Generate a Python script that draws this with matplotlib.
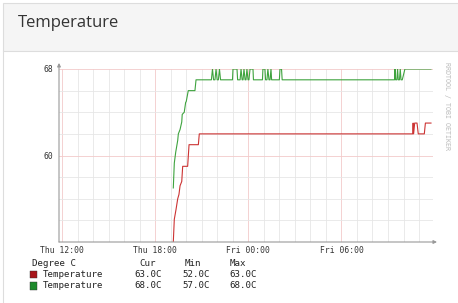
#!/usr/bin/env python3
"""Temperature panel: rrdtool-style 1-day graph of two temperature sensors."""
import matplotlib
matplotlib.use('Agg')
import matplotlib.pyplot as plt
from matplotlib.patches import Rectangle
from matplotlib.lines import Line2D

W, H = 458, 303

# hours since Thu 00:00
red_hours = [19.165, 19.23, 19.34, 19.45, 19.53, 19.60, 19.71, 19.77, 20.09, 20.18,
             20.78, 20.84, 34.59, 34.62, 34.65, 34.72, 34.87, 34.95, 35.34, 35.41, 35.77]
red_temp = [52.0, 54.1, 55.0, 56.0, 56.4, 57.2, 57.6, 59.0, 59.0, 61.0,
            61.0, 62.0, 62.0, 63.0, 62.0, 63.0, 63.0, 62.0, 62.0, 63.0, 63.0]

green_hours = [19.165, 19.23, 19.32, 19.45, 19.49, 19.60, 19.71, 19.74, 19.87, 19.96,
               20.00, 20.13, 20.56, 20.63,
               21.62, 21.69, 21.76, 21.85, 21.92, 21.99, 22.07, 22.14, 22.21,
               22.98, 23.01, 23.27, 23.31, 23.47, 23.53, 23.60, 23.66, 23.72, 23.79,
               23.85, 23.91, 23.98, 24.04, 24.11, 24.30, 24.33,
               24.91, 24.94, 25.07, 25.11, 25.20, 25.26, 25.33, 25.40, 25.46, 25.50,
               26.00, 26.04, 26.14, 26.18,
               33.42, 33.45, 33.49, 33.57, 33.62, 33.66, 33.74, 33.79, 33.84, 33.92,
               34.09, 35.77]
green_temp = [57.0, 59.3, 60.3, 61.4, 62.0, 62.4, 63.1, 63.8, 64.0, 64.9,
              65.0, 66.0, 66.0, 67.0,
              67, 68, 67, 67, 68, 67, 67, 68, 67,
              67, 68, 68, 67, 67, 68, 67, 67, 68, 67,
              67, 68, 67, 67, 68, 68, 67,
              67, 68, 68, 67, 67, 68, 67, 67, 68, 67,
              67, 68, 68, 67,
              67, 68, 67, 67, 68, 67, 67, 68, 67, 67,
              68, 68]

tick_hours = [12, 18, 24, 30]
tick_labels = ['Thu 12:00', 'Thu 18:00', 'Fri 00:00', 'Fri 06:00']
y_labels = [60, 68]

series_names = ['Temperature', 'Temperature']
cur_vals = ['63.0C', '68.0C']
min_vals = ['52.0C', '57.0C']
max_vals = ['63.0C', '68.0C']

LINE_COLORS = ['#cc3333', '#3ea33e']
SWATCH_COLORS = ['#a8161b', '#1e8a2c']
MONO = 'DejaVu Sans Mono'


def fx(x):
    return x / W


def fy(y):
    return 1 - y / H


fig = plt.figure(figsize=(W / 100, H / 100), dpi=100)
fig.patch.set_facecolor('white')

# panel header
fig.patches.append(Rectangle((fx(2.5), fy(50.5)), fx(W), fy(3) - fy(50.5),
                             transform=fig.transFigure, facecolor='#f5f5f5',
                             edgecolor='#dddddd', lw=0.8))
fig.lines.append(Line2D([fx(2.5), fx(2.5)], [0, fy(50.5)], transform=fig.transFigure,
                        color='#dddddd', lw=0.8))
fig.text(fx(18), fy(23), 'Temperature', family='Open Sans', fontsize=12,
         color='#333333', va='center', ha='left')

# graph area
ax = fig.add_axes([fx(59), fy(242), fx(433) - fx(59), fy(69) - fy(242)])
ax.set_xlim(11.8, 35.9)
ax.set_ylim(52, 68)
for s in ax.spines.values():
    s.set_visible(False)

ax.set_xticks(tick_hours)
ax.set_xticklabels(tick_labels, family=MONO, fontsize=5.8, color='#333333')
ax.set_xticks(range(12, 36), minor=True)
ax.set_yticks(y_labels)
ax.set_yticklabels([str(v) for v in y_labels], family=MONO, fontsize=5.8, color='#333333')
ax.set_yticks(range(52, 69, 2), minor=True)
ax.tick_params(which='both', length=0)
ax.tick_params(axis='x', pad=3)
ax.tick_params(axis='y', pad=4)
ax.grid(which='minor', color='#e6e6e6', lw=0.6)
ax.grid(which='major', color='#f3caca', lw=0.6)
ax.set_axisbelow(True)

ax.plot(red_hours, red_temp, color=LINE_COLORS[0], lw=0.8)
ax.plot(green_hours, green_temp, color=LINE_COLORS[1], lw=0.8)

arrow = dict(arrowstyle='-|>', color='#999999', lw=0.8, mutation_scale=5,
             shrinkA=0, shrinkB=0)
ax.annotate('', xy=(1.0107, 0), xytext=(0, 0), xycoords='axes fraction',
            arrowprops=arrow, annotation_clip=False)
ax.annotate('', xy=(0, 1.035), xytext=(0, 0), xycoords='axes fraction',
            arrowprops=arrow, annotation_clip=False)

fig.text(fx(447), fy(62), 'RRDTOOL / TOBI OETIKER', family=MONO, fontsize=4.8,
         color='#bbbbbb', rotation=270, ha='center', va='top')

# legend
lt = dict(family=MONO, fontsize=6.6, color='#222222', va='center', ha='left')
fig.text(fx(31.7), fy(263), 'Degree C', **lt)
fig.text(fx(139.3), fy(263), 'Cur', **lt)
fig.text(fx(184.3), fy(263), 'Min', **lt)
fig.text(fx(229.3), fy(263), 'Max', **lt)
for i, ry in enumerate([274.3, 286.0]):
    fig.patches.append(Rectangle((fx(30), fy(ry + 3.8)), fx(7.3), fy(0) - fy(7.6),
                                 transform=fig.transFigure, facecolor=SWATCH_COLORS[i],
                                 edgecolor='#333333', lw=0.3))
    fig.text(fx(42.7), fy(ry), series_names[i], **lt)
    fig.text(fx(134.3), fy(ry), cur_vals[i], **lt)
    fig.text(fx(182.3), fy(ry), min_vals[i], **lt)
    fig.text(fx(229.3), fy(ry), max_vals[i], **lt)

fig.savefig('out.png', dpi=100)
